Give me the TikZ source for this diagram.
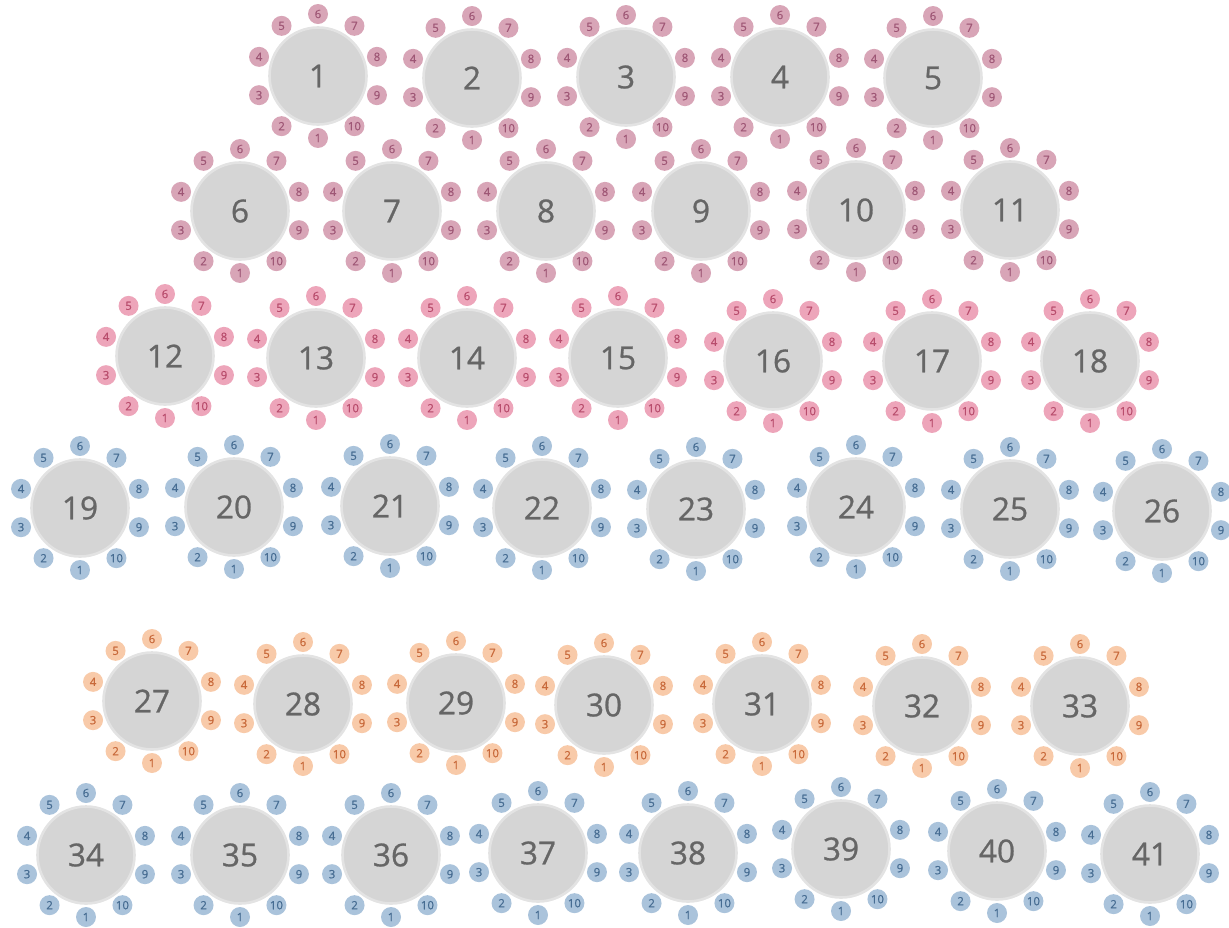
\documentclass[tikz,border=0pt]{standalone}
\usepackage{fontspec}
\setsansfont{Open Sans}
\newfontfamily\tablefont[FakeBold=0.8]{Open Sans}
\newfontfamily\seatfont[FakeBold=0.6]{Open Sans}
\usepackage{xcolor}
\definecolor{table-fill}{HTML}{D5D5D5}
\definecolor{table-rim}{HTML}{E3E3E3}
\definecolor{table-text}{HTML}{666666}
\definecolor{mauve-fill}{HTML}{D8A5B7}
\definecolor{mauve-text}{HTML}{9E5675}
\definecolor{rose-fill}{HTML}{EDA5BA}
\definecolor{rose-text}{HTML}{B84C6C}
\definecolor{blue-fill}{HTML}{AAC3DB}
\definecolor{blue-text}{HTML}{466C92}
\definecolor{peach-fill}{HTML}{F8CAA9}
\definecolor{peach-text}{HTML}{C8693A}
\usepackage{tikz}
\usetikzlibrary{positioning}

% one round table with its ten seats
\newcommand{\roundtable}[4]{%
  \node[tbl] (t#1) at (#2,#3) {#1};
  \foreach \k in {1,...,10}
    \node[seat=#4] (t#1s\k) at ([shift={(-54-36*\k:1.24cm)}]t#1.center) {\k};
}

\begin{document}
\begin{tikzpicture}[
    x=0.02cm, y=-0.02cm,
    tbl/.style={
      circle,
      fill=table-fill,
      draw=table-rim,
      line width=1.5pt,
      minimum size=1.94cm,
      inner sep=0pt,
      font=\tablefont\fontsize{18}{18}\selectfont,
      text=table-text
    },
    seat/.style={
      circle,
      fill=#1-fill,
      text=#1-text,
      minimum size=0.4cm,
      inner sep=0pt,
      font=\seatfont\fontsize{6.5}{6.5}\selectfont
    }
  ]
    \useasboundingbox (0,0) rectangle (1229,927);

    % row 1
    \foreach \n/\x/\y in {1/318/76, 2/472/78, 3/626/77, 4/780/77, 5/933/78}
      \roundtable{\n}{\x}{\y}{mauve};
    % row 2
    \foreach \n/\x/\y in {6/240/211, 7/392/211, 8/546/211, 9/701/211, 10/856/210, 11/1010/210}
      \roundtable{\n}{\x}{\y}{mauve};
    % row 3
    \foreach \n/\x/\y in {12/165/356, 13/316/358, 14/467/358, 15/618/358, 16/773/361, 17/932/361, 18/1090/361}
      \roundtable{\n}{\x}{\y}{rose};
    % row 4
    \foreach \n/\x/\y in {19/80/508, 20/234/507, 21/390/506, 22/542/508, 23/696/509, 24/856/507, 25/1010/509, 26/1162/511}
      \roundtable{\n}{\x}{\y}{blue};
    % row 5
    \foreach \n/\x/\y in {27/152/701, 28/303/704, 29/456/703, 30/604/705, 31/762/704, 32/922/706, 33/1080/706}
      \roundtable{\n}{\x}{\y}{peach};
    % row 6
    \foreach \n/\x/\y in {34/86/855, 35/240/855, 36/391/855, 37/538/853, 38/688/853, 39/841/849, 40/997/851, 41/1150/854}
      \roundtable{\n}{\x}{\y}{blue};
  \end{tikzpicture}
\end{document}
